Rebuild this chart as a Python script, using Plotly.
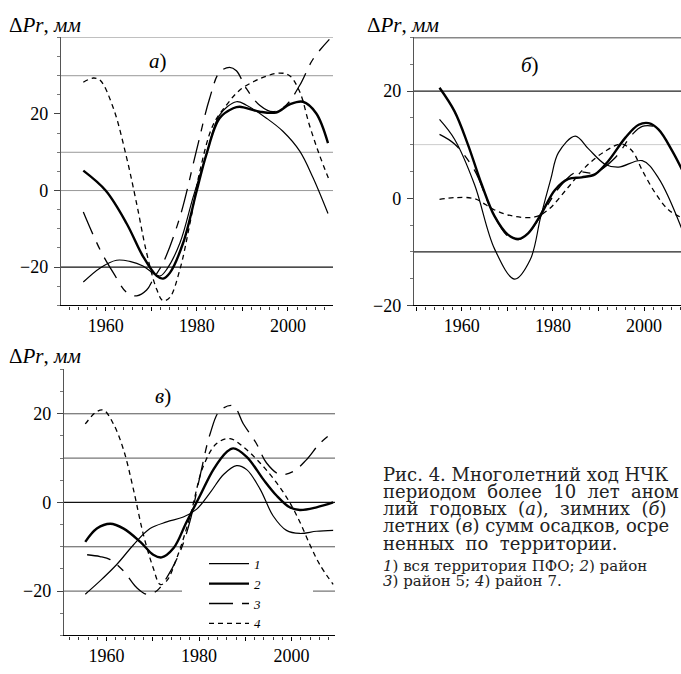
import plotly.graph_objects as go

# ---------------- data ----------------
# panel a) annual
a1_x = [1955.1, 1958.8, 1962.4, 1965.3, 1968.2, 1970.8, 1972.0, 1973.4, 1976.3, 1979.2, 1982.1, 1985.0, 1988.7, 1990.9, 1995.3, 1998.9, 2002.6, 2005.5, 2008.8]
a1_y = [-23.9, -20.2, -18.2, -18.5, -19.7, -21.9, -22.3, -20.6, -13.7, -1.7, 9.4, 19.7, 23.2, 22.3, 18.9, 15.5, 10.3, 3.4, -6.0]
a2_x = [1955.1, 1960.0, 1964.6, 1968.2, 1971.2, 1972.6, 1974.1, 1977.0, 1980.0, 1982.1, 1985.0, 1988.0, 1989.4, 1993.8, 1997.4, 2000.4, 2003.3, 2006.2, 2008.8]
a2_y = [5.2, 0.0, -8.6, -17.2, -22.3, -23.0, -21.5, -13.7, 0.0, 9.4, 18.9, 21.5, 21.9, 20.6, 20.4, 22.5, 23.2, 20.2, 12.4]
a3_x = [1955.1, 1958.8, 1961.7, 1964.6, 1966.8, 1969.0, 1970.5, 1972.6, 1976.3, 1979.9, 1982.8, 1985.0, 1987.2, 1988.7, 1990.9, 1993.8, 1996.7, 1999.6, 2002.6, 2005.5, 2009.1]
a3_y = [-5.6, -15.5, -21.5, -26.6, -27.5, -26.0, -23.0, -18.9, -6.9, 10.3, 24.0, 30.9, 32.2, 31.3, 26.6, 22.3, 20.6, 22.3, 27.5, 34.3, 39.5]
a4_x = [1955.1, 1957.3, 1958.8, 1961.7, 1964.6, 1966.8, 1969.0, 1971.2, 1972.6, 1974.1, 1976.3, 1978.5, 1980.7, 1983.6, 1986.5, 1989.4, 1993.8, 1998.2, 2000.4, 2002.6, 2004.7, 2006.9, 2009.1]
a4_y = [28.3, 29.4, 28.8, 21.5, 8.6, -3.4, -16.3, -25.8, -28.8, -27.9, -20.6, -8.6, 5.2, 17.2, 22.3, 26.2, 29.2, 30.7, 30.0, 25.8, 17.2, 9.4, 2.6]

# panel б) winter
b1_x = [1955.1, 1958.4, 1962.8, 1967.2, 1971.6, 1975.0, 1977.3, 1979.5, 1981.2, 1984.9, 1987.8, 1991.5, 1994.4, 1999.6, 2003.2, 2008.4]
b1_y = [14.7, 11.0, 2.5, -9.5, -15.1, -11.5, -3.5, 3.5, 8.5, 11.6, 9.2, 6.3, 5.8, 7.0, 3.7, -6.0]
b2_x = [1955.1, 1958.4, 1961.3, 1964.3, 1967.2, 1970.1, 1972.4, 1974.6, 1977.5, 1980.4, 1983.4, 1986.3, 1989.3, 1992.2, 1995.9, 1998.8, 2001.0, 2003.2, 2006.2, 2008.4]
b2_y = [20.6, 16.2, 10.1, 2.7, -3.4, -6.8, -7.6, -6.5, -2.8, 1.5, 3.6, 3.9, 4.5, 7.0, 11.3, 13.7, 14.0, 12.8, 8.8, 5.2]
b3_x = [1955.1, 1958.4, 1962.8, 1966.5, 1970.1, 1972.4, 1974.6, 1977.5, 1981.2, 1984.9, 1989.3, 1993.7, 1997.4, 1999.6, 2002.5]
b3_y = [11.9, 10.1, 5.2, -2.2, -7.1, -7.7, -6.5, -3.1, 1.8, 4.8, 4.8, 7.6, 11.9, 13.4, 13.4]
b4_x = [1955.1, 1958.4, 1962.8, 1967.2, 1971.6, 1976.0, 1978.9, 1983.4, 1987.1, 1991.5, 1995.1, 1997.4, 1999.6, 2002.5, 2005.4, 2008.4]
b4_y = [-0.2, 0.1, -0.1, -2.2, -3.4, -3.5, -2.2, 2.1, 5.8, 8.8, 10.1, 8.8, 5.2, 0.9, -2.2, -3.7]

# panel в) summer
c1_x = [1955.4, 1958.6, 1962.2, 1965.8, 1969.4, 1973.0, 1976.6, 1979.5, 1982.4, 1985.3, 1988.1, 1990.3, 1993.2, 1996.0, 1998.9, 2001.8, 2005.4, 2009.0]
c1_y = [-20.7, -17.7, -14.0, -9.6, -5.9, -4.4, -3.3, -1.5, 2.2, 6.3, 8.3, 7.4, 3.0, -3.0, -6.3, -7.0, -6.5, -6.3]
c2_x = [1955.4, 1957.9, 1960.8, 1963.7, 1967.3, 1970.1, 1971.9, 1974.5, 1977.3, 1980.2, 1983.1, 1986.0, 1987.4, 1990.3, 1993.9, 1996.8, 1999.6, 2001.8, 2005.4, 2009.0]
c2_y = [-8.9, -5.9, -4.8, -5.9, -8.9, -11.8, -12.4, -10.3, -4.4, 1.5, 7.4, 11.4, 12.2, 10.3, 5.2, 1.5, -1.1, -1.7, -1.1, 0.0]
c3_x = [1955.8, 1958.6, 1960.8, 1963.7, 1966.5, 1968.7, 1970.9, 1973.0, 1975.9, 1978.0, 1980.2, 1982.4, 1984.5, 1987.4, 1989.6, 1992.4, 1994.6, 1997.5, 2000.4, 2003.2, 2006.1, 2009.0]
c3_y = [-11.8, -12.2, -12.9, -15.5, -19.2, -20.7, -19.9, -17.0, -11.1, -4.4, 5.9, 15.5, 20.7, 21.8, 17.7, 13.3, 8.9, 6.3, 7.0, 9.6, 13.3, 15.9]
c4_x = [1955.4, 1957.9, 1959.4, 1961.5, 1963.7, 1965.8, 1968.0, 1970.1, 1971.6, 1973.0, 1975.2, 1978.1, 1980.9, 1983.8, 1986.7, 1989.6, 1993.2, 1996.8, 1999.6, 2001.8, 2004.0, 2006.1, 2009.0]
c4_y = [17.7, 20.5, 20.8, 17.7, 11.8, 3.0, -7.4, -14.8, -18.5, -17.7, -12.5, -3.0, 8.1, 13.3, 14.4, 12.5, 8.9, 4.4, 0.0, -4.4, -9.6, -14.0, -18.5]

series_names = ["<i>1</i>", "<i>2</i>", "<i>3</i>", "<i>4</i>"]
x_tickvals = [1950, 1960, 1970, 1980, 1990, 2000, 2010]
x_ticktext = ["", "1960", "", "1980", "", "2000", ""]
y_tickvals = [-20, 0, 20]
y_ticktext = ["−20", "0", "20"]
y_title = "Δ<i>Pr</i>, <i>мм</i>"
panel_labels = ["<i>а</i>)", "<i>б</i>)", "<i>в</i>)"]
caption_lines = [
    "Рис. 4. Многолетний ход НЧК",
    "периодом  более  10  лет  аном",
    "лий  годовых  (<i>а</i>),  зимних  (<i>б</i>)",
    "летних (<i>в</i>) сумм осадков, осре",
    "ненных  по  территории.",
]
note_lines = [
    "<i>1</i>) вся территория ПФО; <i>2</i>) район",
    "<i>3</i>) район 5; <i>4</i>) район 7.",
]

# ---------------- styles ----------------
W, H = 681, 674
FONT = "Liberation Serif"
CAP_FONT = "DejaVu Serif"
styles = [
    dict(color="black", width=1.2, dash="solid"),
    dict(color="black", width=2.4, dash="solid"),
    dict(color="black", width=1.3, dash="24px,9px,8px,9px"),
    dict(color="black", width=1.3, dash="5px,4px"),
]

def px_x(v):
    return v / W

def px_y(v):
    return 1 - v / H

fig = go.Figure()

panels = [
    ("x", "y", [(a1_x, a1_y), (a2_x, a2_y), (a3_x, a3_y), (a4_x, a4_y)]),
    ("x2", "y2", [(b1_x, b1_y), (b2_x, b2_y), (b3_x, b3_y), (b4_x, b4_y)]),
    ("x3", "y3", [(c1_x, c1_y), (c2_x, c2_y), (c3_x, c3_y), (c4_x, c4_y)]),
]
for pi, (xa, ya, curves) in enumerate(panels):
    for ci, (xs, ys) in enumerate(curves):
        fig.add_trace(go.Scatter(
            x=xs, y=ys, xaxis=xa, yaxis=ya, mode="lines",
            line=dict(shape="spline", smoothing=1.0, **styles[ci]),
            name=series_names[ci], showlegend=(pi == 2),
            hoverinfo="skip",
        ))

# axis geometry (pixels)
geo = {
    "a": dict(l=61, r=333, t=38, b=310, xr=[1950.2, 2009.9], yr=[-30, 40]),
    "b": dict(l=414, r=681, t=38, b=310, xr=[1949.5, 2008.1], yr=[-20, 30]),
    "c": dict(l=64, r=335, t=375, b=645, xr=[1950.8, 2009.4], yr=[-30, 30]),
}

def xaxis_cfg(g, anchor):
    return dict(
        domain=[px_x(g["l"]), px_x(g["r"])], range=g["xr"], anchor=anchor,
        tickvals=x_tickvals, ticktext=x_ticktext, ticks="outside", ticklen=4,
        tickcolor="black", tickwidth=1, showline=True, linecolor="black", linewidth=1.3,
        showgrid=False, zeroline=False,
        minor=dict(dtick=2, tick0=1950, ticks="outside", ticklen=3, tickcolor="#333", showgrid=False),
        tickfont=dict(family=FONT, size=18, color="black"), ticklabelstandoff=0,
    )

def yaxis_cfg(g, anchor):
    return dict(
        domain=[px_y(g["b"]), px_y(g["t"])], range=g["yr"], anchor=anchor,
        tickvals=y_tickvals, ticktext=y_ticktext, ticks="outside", ticklen=6, tickcolor="#444",
        showline=True, linecolor="#555", linewidth=1.3, showgrid=False, zeroline=False,
        minor=dict(dtick=5, tick0=0, ticks="outside", ticklen=3, tickcolor="#777", showgrid=False),
        tickfont=dict(family=FONT, size=18, color="black"), ticklabelstandoff=2,
    )

fig.update_layout(
    xaxis=xaxis_cfg(geo["a"], "y"), yaxis=yaxis_cfg(geo["a"], "x"),
    xaxis2=xaxis_cfg(geo["b"], "y2"), yaxis2=yaxis_cfg(geo["b"], "x2"),
    xaxis3=xaxis_cfg(geo["c"], "y3"), yaxis3=yaxis_cfg(geo["c"], "x3"),
)

# horizontal reference lines: (value, colour, width, [x-spans in domain fraction])
legend_gap = [(0.0, (182 - 64) / 271), ((313 - 64) / 271, 1.0)]
grids = {
    ("x", "y"): [(40, "#777", 1.0, None), (30, "#999", 1.0, None), (10, "#999", 1.0, None),
                 (0, "#999", 1.0, None), (-20, "#111", 1.4, None)],
    ("x2", "y2"): [(30, "#111", 1.6, None), (20, "#222", 1.2, None), (10, "#cccccc", 1.0, None),
                   (-10, "#222", 1.2, None)],
    ("x3", "y3"): [(20, "#555", 1.0, None), (10, "#555", 1.0, None), (0, "#111", 1.3, None),
                   (-10, "#555", 1.0, None), (-20, "#555", 1.0, legend_gap)],
}
shapes = []
for (xa, ya), lines in grids.items():
    for v, col, w, spans in lines:
        for x0, x1 in (spans or [(0, 1)]):
            shapes.append(dict(type="line", xref=xa + " domain", yref=ya, x0=x0, x1=x1, y0=v, y1=v,
                               line=dict(color=col, width=w), layer="below"))
fig.update_layout(shapes=shapes)

ann = []
# y-axis titles
for x0, yc in [(7, 25), (365, 25), (7, 361)]:
    ann.append(dict(text=y_title, x=px_x(x0), y=px_y(yc), xref="paper", yref="paper",
                    xanchor="left", yanchor="middle", showarrow=False,
                    font=dict(family=FONT, size=21, color="black")))
# panel labels
for (xc, yc), t in zip([(158, 62), (530, 66), (163, 402)], panel_labels):
    ann.append(dict(text=t, x=px_x(xc), y=px_y(yc), xref="paper", yref="paper",
                    xanchor="center", yanchor="middle", showarrow=False,
                    font=dict(family=FONT, size=21, color="black")))
# caption
for i, t in enumerate(caption_lines):
    ann.append(dict(text=t, x=px_x(381), y=px_y(482 + 17.3 * i), xref="paper", yref="paper",
                    xanchor="left", yanchor="middle", showarrow=False,
                    font=dict(family=CAP_FONT, size=18, color="#222")))
for i, t in enumerate(note_lines):
    ann.append(dict(text=t, x=px_x(381), y=px_y(575 + 14.5 * i), xref="paper", yref="paper",
                    xanchor="left", yanchor="middle", showarrow=False,
                    font=dict(family=CAP_FONT, size=15, color="#222")))
fig.update_layout(annotations=ann)

fig.update_layout(
    width=W, height=H, margin=dict(l=0, r=0, t=0, b=0),
    paper_bgcolor="white", plot_bgcolor="white",
    font=dict(family=FONT, color="black"),
    showlegend=True,
    legend=dict(x=px_x(204), y=px_y(557), xanchor="left", yanchor="top",
                bgcolor="rgba(0,0,0,0)", borderwidth=0, tracegroupgap=0, itemwidth=40,
                font=dict(family=FONT, size=13, color="black"), itemclick=False),
)

fig.write_html("out.html", config={"displayModeBar": False},
               post_script="document.body.style.margin='0px';document.body.style.overflow='hidden';")
